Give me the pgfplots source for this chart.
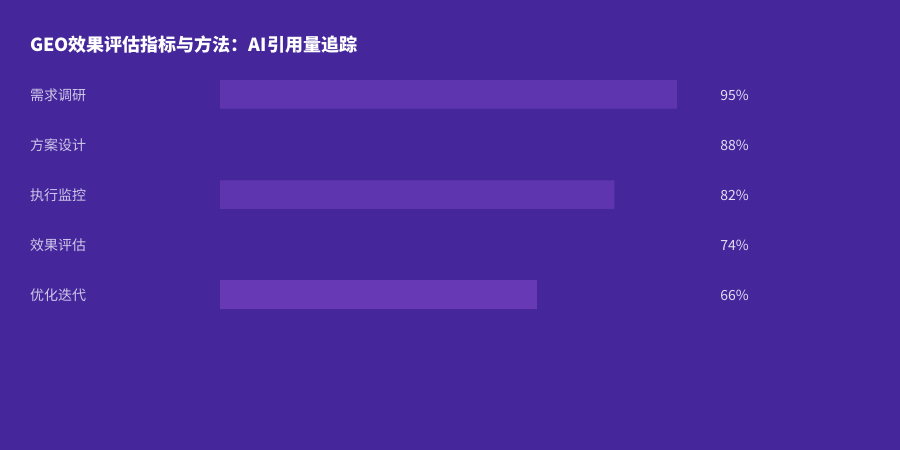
\documentclass[border=0pt]{standalone}
\usepackage{fontspec}
\setmainfont{Noto Sans CJK SC}
\usepackage{pgfplots}
\pgfplotsset{compat=1.18}
\definecolor{bg}{HTML}{45279B}
\definecolor{barA}{HTML}{5E35AE}
\definecolor{barB}{HTML}{6839B5}
\definecolor{lbl}{HTML}{CFC6EA}
\definecolor{val}{HTML}{E4DDF5}

\begin{document}
\begin{tikzpicture}[x=1pt,y=1pt]
\fill[bg] (0,0) rectangle (900,450);
\node[anchor=west, text=white, font=\fontsize{18}{20}\selectfont\bfseries, inner sep=0] at (30,405.5) {GEO效果评估指标与方法：AI引用量追踪};
\begin{axis}[
    at={(220pt,130.5pt)}, anchor=south west,
    scale only axis,
    width=481pt, height=250pt,
    xmin=0, xmax=100,
    ymin=-0.5, ymax=4.5,
    y dir=reverse,
    clip=false,
    /pgf/number format/assume math mode=true,
    xbar, bar width=28.5pt, bar shift=0pt,
    ytick={0,1,2,3,4},
    yticklabels={需求调研,方案设计,执行监控,效果评估,优化迭代},
    hide x axis,
    axis y line=left,
    y axis line style={draw=none},
    major tick length=0pt,
    yticklabel style={anchor=west, xshift=-190pt, yshift=-0.5pt, inner sep=0pt, text=lbl, font=\fontsize{14}{16}\selectfont},
]
\addplot[fill=barA, draw=none] coordinates {(95,0) (82,2)};
\addplot[fill=bg, draw=none] coordinates {(88,1) (74,3)};
\addplot[fill=barB, draw=none] coordinates {(66,4)};
\addplot[xbar=0pt, draw=none, fill=none, bar width=0pt,
    point meta=explicit,
    nodes near coords={\pgfmathprintnumber{\pgfplotspointmeta}\%},
    every node near coord/.append style={anchor=west, inner sep=0pt, text=val, yshift=-0.5pt, font=\fontsize{14}{16}\selectfont}]
    coordinates {(104,0) [95] (104,1) [88] (104,2) [82] (104,3) [74] (104,4) [66]};
\end{axis}
\end{tikzpicture}
\end{document}
